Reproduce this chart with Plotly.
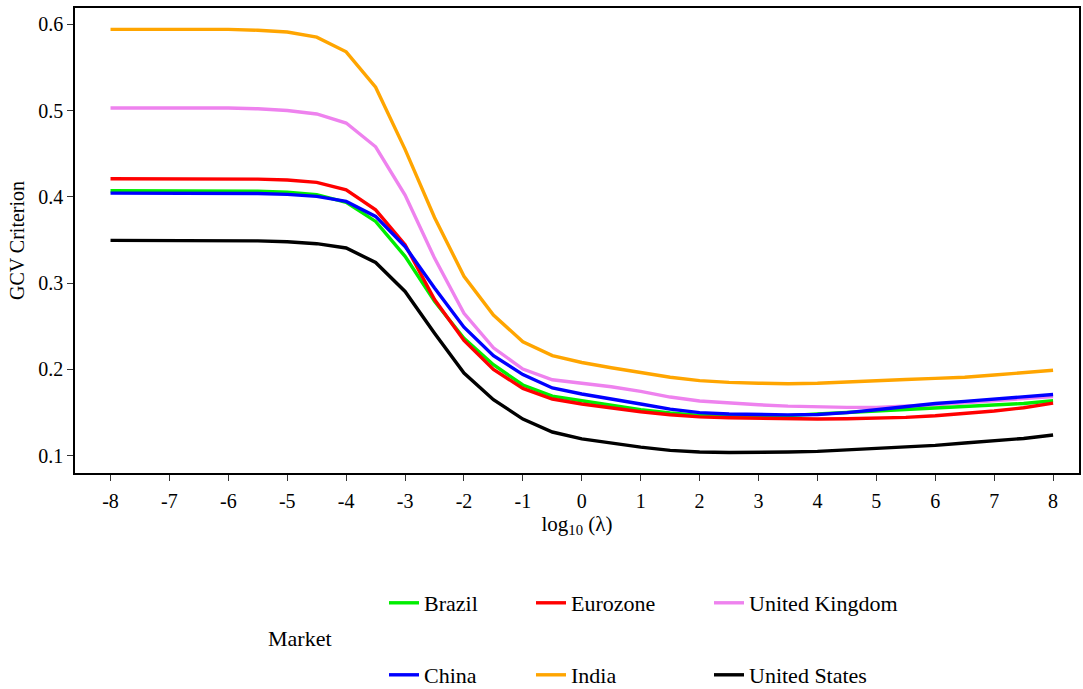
import plotly.graph_objects as go

# log10(lambda) grid
log_lambda = [x / 2 for x in range(-16, 17)]

brazil = [0.407, 0.407, 0.407, 0.407, 0.407, 0.4065, 0.4055, 0.4025, 0.3935, 0.3715,
          0.331, 0.279, 0.236, 0.2055, 0.182, 0.169, 0.1637, 0.158, 0.1533, 0.1495,
          0.1467, 0.1462, 0.146, 0.1465, 0.1483, 0.150, 0.152, 0.1533, 0.1545, 0.1564,
          0.1583, 0.1606, 0.1637]
eurozone = [0.421, 0.421, 0.421, 0.421, 0.421, 0.4205, 0.4195, 0.4167, 0.408, 0.385,
            0.3445, 0.281, 0.2336, 0.200, 0.178, 0.1657, 0.160, 0.155, 0.151, 0.1475,
            0.145, 0.144, 0.1432, 0.1425, 0.1425, 0.1429, 0.1437, 0.1444, 0.1463, 0.1487,
            0.1518, 0.1556, 0.161]
uk = [0.503, 0.503, 0.503, 0.503, 0.503, 0.502, 0.500, 0.496, 0.4855, 0.458,
      0.402, 0.329, 0.265, 0.225, 0.2005, 0.188, 0.184, 0.180, 0.1745, 0.168,
      0.1635, 0.161, 0.159, 0.1575, 0.1565, 0.156, 0.156, 0.1572, 0.159, 0.1614,
      0.1637, 0.166, 0.1687]
china = [0.4043, 0.4043, 0.4043, 0.4043, 0.4043, 0.4038, 0.4028, 0.4005, 0.3947, 0.3773,
         0.3425, 0.2943, 0.249, 0.216, 0.194, 0.1785, 0.1715, 0.166, 0.160, 0.154,
         0.150, 0.1483, 0.1475, 0.1473, 0.1478, 0.150, 0.1533, 0.157, 0.1605, 0.163,
         0.1655, 0.168, 0.171]
india = [0.594, 0.594, 0.594, 0.594, 0.594, 0.593, 0.591, 0.585, 0.568, 0.527,
         0.455, 0.376, 0.308, 0.263, 0.232, 0.216, 0.208, 0.202, 0.1965, 0.191,
         0.187, 0.185, 0.184, 0.1835, 0.184, 0.1857, 0.187, 0.1884, 0.1896, 0.191,
         0.1935, 0.196, 0.199]
united_states = [0.3495, 0.3495, 0.3495, 0.3495, 0.3495, 0.349, 0.348, 0.3457, 0.3407, 0.324,
                 0.2904, 0.242, 0.1958, 0.165, 0.1425, 0.1275, 0.1195, 0.1147, 0.110, 0.1062,
                 0.1043, 0.1038, 0.1038, 0.1043, 0.105, 0.1066, 0.1081, 0.110, 0.112, 0.1147,
                 0.117, 0.120, 0.124]

markets = ["Brazil", "Eurozone", "United Kingdom", "China", "India", "United States"]
series = [brazil, eurozone, uk, china, india, united_states]
colors = ["#00ee00", "#ff0000", "#ee82ee", "#0000ff", "#ffa500", "#000000"]
# draw order (last on top)
draw_order = ["India", "United Kingdom", "Brazil", "Eurozone", "China", "United States"]

FONT = "Liberation Serif, Times New Roman, serif"

# legend grid: two rows of three columns, one legend per entry,
# placed in container coordinates so it does not push the plot margins
W, H = 1083, 689
L, R, T, B = 75, 4, 8, 216
pw, ph = W - L - R, H - T - B
col_px = [384, 531, 709]
row_px = [603, 675]

fig = go.Figure()
legend_layouts = {}
for i, name in enumerate(markets):
    key = "legend" if i == 0 else f"legend{i + 1}"
    legend_layouts[key] = dict(
        xref="container", yref="container",
        x=col_px[i % 3] / W,
        y=(H - row_px[i // 3]) / H,
        xanchor="left", yanchor="middle",
        orientation="h", bgcolor="rgba(0,0,0,0)",
        font=dict(family=FONT, size=22, color="black"),
    )

for name in draw_order:
    i = markets.index(name)
    key = "legend" if i == 0 else f"legend{i + 1}"
    fig.add_trace(go.Scatter(
        x=log_lambda, y=series[i], mode="lines", name=name,
        line=dict(color=colors[i], width=3.4),
        legend=key,
    ))

fig.update_layout(
    width=W, height=H,
    margin=dict(l=L, r=R, t=T, b=B, autoexpand=False),
    plot_bgcolor="white", paper_bgcolor="white",
    font=dict(family=FONT, size=20, color="black"),
    showlegend=True,
    **legend_layouts,
)

fig.update_xaxes(
    range=[-8.603, 8.44], tickmode="array",
    tickvals=list(range(-8, 9)), ticktext=[str(v) for v in range(-8, 9)],
    showgrid=False, zeroline=False,
    showline=True, linecolor="black", linewidth=1.5, mirror=True,
    ticks="outside", ticklen=6, tickcolor="#333333", tickwidth=1.2,
    ticklabelstandoff=3,
    tickfont=dict(family=FONT, size=20, color="black"),
    title=dict(text="log<sub>10</sub> (λ)", font=dict(family=FONT, size=21), standoff=3),
)
fig.update_yaxes(
    range=[0.080, 0.6188], tickmode="array",
    tickvals=[0.1, 0.2, 0.3, 0.4, 0.5, 0.6],
    ticktext=["0.1", "0.2", "0.3", "0.4", "0.5", "0.6"],
    showgrid=False, zeroline=False,
    showline=True, linecolor="black", linewidth=1.5, mirror=True,
    ticks="outside", ticklen=6, tickcolor="#333333", tickwidth=1.2,
    tickfont=dict(family=FONT, size=20, color="black"),
    title=dict(text="GCV Criterion", font=dict(family=FONT, size=20), standoff=8),
)

fig.add_annotation(
    text="Market", xref="paper", yref="paper",
    x=(266 - L) / pw, y=(H - B - 638) / ph,
    xanchor="left", yanchor="middle", showarrow=False,
    font=dict(family=FONT, size=22, color="black"),
)

fig.write_html("out.html")
